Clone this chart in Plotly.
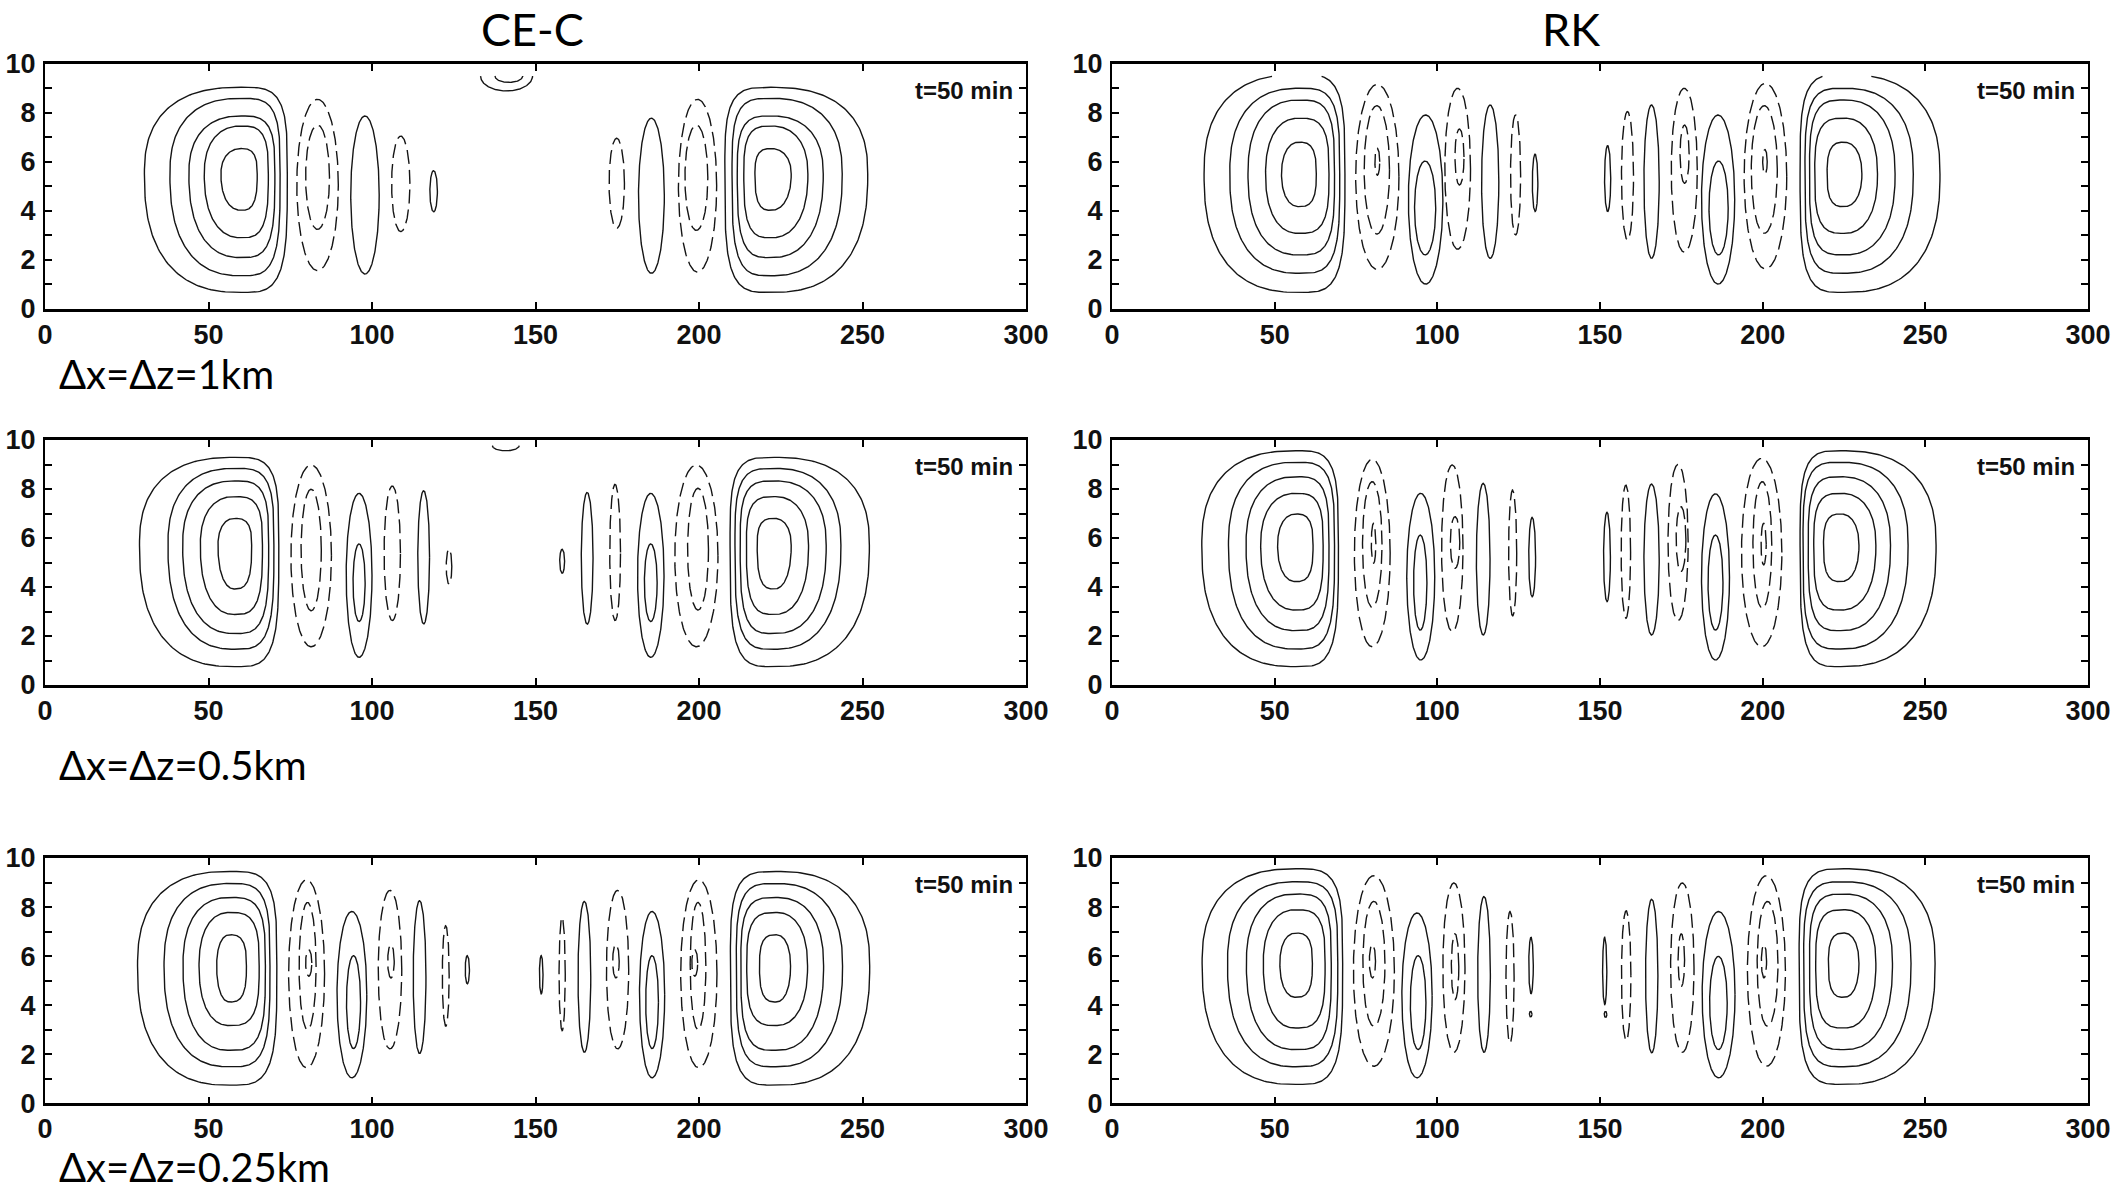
import numpy as np
import plotly.graph_objects as go

# ---------------- data ----------------
X_TICKS = [0, 50, 100, 150, 200, 250, 300]
Z_TICKS = list(range(0, 11))
Z_TICK_TEXT = [str(v) if v % 2 == 0 else "" for v in Z_TICKS]
COLUMN_TITLES = ["CE-C", "RK"]
ROW_LABELS = ["Δx=Δz=1km", "Δx=Δz=0.5km", "Δx=Δz=0.25km"]
TIME_LABEL = "t=50 min"
GRID_TOP = [9.5, 9.77, 9.9]          # top of the plotted model data, per resolution row

# centres (x, z) of the two large positive cells in each panel
cec_1km_centres = [(60.0, 5.5), (222.0, 5.5)]
rk_1km_centres = [(57.5, 5.5), (225.0, 5.5)]
cec_05km_centres = [(58.0, 5.7), (223.0, 5.7)]
rk_05km_centres = [(56.5, 5.7), (224.0, 5.7)]
cec_025km_centres = [(56.5, 5.6), (223.5, 5.6)]
rk_025km_centres = [(56.5, 5.7), (225.0, 5.7)]

# contour lines: (kind, x_left, x_right, z_bottom, z_top)
# kind: main = large positive cell, pos = positive, neg = negative (dashed), arc = partial positive contour at top
cec_1km = [
    ("main", 30.4, 74.1, 0.67, 9.04), ("main", 38.2, 71.9, 1.35, 8.59), ("main", 44.0, 70.3, 2.09, 7.87),
    ("main", 48.7, 68.3, 2.90, 7.46), ("main", 53.8, 64.9, 4.02, 6.54),
    ("neg", 77.0, 89.7, 1.56, 8.55), ("neg", 79.7, 87.0, 3.24, 7.50),
    ("pos", 93.5, 102.2, 1.42, 7.87),
    ("neg", 106.0, 111.6, 3.15, 7.05),
    ("pos", 117.7, 120.0, 3.96, 5.64),
    ("arc", 133.2, 149.1, 8.89, 10.10), ("arc", 137.6, 146.1, 9.24, 9.80),
    ("neg", 172.5, 177.2, 3.29, 6.96),
    ("pos", 181.5, 189.4, 1.45, 7.78),
    ("neg", 193.7, 205.4, 1.50, 8.55), ("neg", 195.7, 202.7, 3.20, 7.50),
    ("main", 207.9, 251.6, 0.67, 9.04), ("main", 210.1, 243.8, 1.35, 8.59), ("main", 211.7, 238.0, 2.09, 7.87),
    ("main", 213.7, 233.3, 2.90, 7.46), ("main", 217.1, 228.2, 4.02, 6.54),
]
rk_1km = [
    ("main", 28.3, 71.6, 0.67, 9.56), ("main", 36.2, 70.0, 1.45, 9.00), ("main", 41.8, 68.4, 2.20, 8.52),
    ("main", 47.2, 66.7, 3.08, 7.78), ("main", 52.1, 62.8, 4.17, 6.80),
    ("neg", 74.9, 88.2, 1.61, 9.16), ("neg", 77.5, 85.3, 3.05, 8.29), ("neg", 80.8, 82.3, 5.45, 6.55),
    ("pos", 91.1, 101.7, 1.01, 7.91), ("pos", 93.0, 99.5, 2.20, 6.03),
    ("neg", 102.3, 110.2, 2.43, 9.00), ("neg", 105.4, 108.2, 5.05, 7.34),
    ("pos", 113.6, 118.9, 2.06, 8.32),
    ("neg", 122.5, 125.6, 3.01, 7.91),
    ("pos", 129.2, 130.9, 3.97, 6.31),
    ("pos", 151.4, 153.3, 3.97, 6.66),
    ("neg", 156.6, 160.3, 2.81, 8.05),
    ("pos", 163.5, 168.2, 2.06, 8.32),
    ("neg", 171.9, 179.9, 2.31, 9.00), ("neg", 174.6, 177.4, 5.12, 7.50),
    ("pos", 181.2, 191.4, 1.01, 7.91), ("pos", 183.5, 189.4, 2.20, 6.03),
    ("neg", 194.3, 207.4, 1.63, 9.20), ("neg", 196.5, 204.5, 3.08, 8.29), ("neg", 200.0, 201.4, 5.50, 6.50),
    ("main", 211.5, 254.5, 0.67, 9.56), ("main", 213.0, 246.3, 1.45, 9.00), ("main", 214.4, 240.7, 2.20, 8.52),
    ("main", 216.0, 235.3, 3.08, 7.78), ("main", 219.8, 230.5, 4.17, 6.80),
]
cec_05km = [
    ("main", 28.9, 71.5, 0.75, 9.29), ("main", 37.6, 70.0, 1.46, 8.84), ("main", 42.1, 68.4, 2.10, 8.33),
    ("main", 47.5, 66.5, 2.88, 7.69), ("main", 52.9, 63.2, 3.92, 6.80),
    ("neg", 75.2, 87.6, 1.56, 8.98), ("neg", 78.3, 84.5, 3.03, 7.99),
    ("pos", 92.1, 100.0, 1.13, 7.82), ("pos", 94.2, 97.9, 2.59, 5.76),
    ("neg", 103.7, 108.7, 2.63, 8.12),
    ("pos", 114.0, 117.6, 2.49, 7.93),
    ("neg", 122.7, 124.4, 4.12, 5.55),
    ("arc", 136.8, 145.0, 9.56, 10.00),
    ("pos", 157.4, 158.9, 4.56, 5.54),
    ("pos", 164.0, 167.6, 2.48, 7.86),
    ("neg", 172.7, 176.0, 2.63, 8.19),
    ("pos", 181.2, 189.3, 1.13, 7.82), ("pos", 183.3, 187.2, 2.59, 5.76),
    ("neg", 192.6, 205.8, 1.56, 8.98), ("neg", 196.5, 202.9, 3.06, 8.03),
    ("main", 209.5, 252.1, 0.75, 9.29), ("main", 211.0, 243.4, 1.46, 8.84), ("main", 212.6, 238.9, 2.10, 8.33),
    ("main", 214.5, 233.5, 2.88, 7.69), ("main", 217.8, 228.2, 3.92, 6.80),
]
rk_05km = [
    ("main", 27.6, 69.6, 0.75, 9.56), ("main", 35.8, 68.4, 1.47, 9.09), ("main", 41.2, 66.7, 2.22, 8.50),
    ("main", 45.7, 64.9, 3.06, 7.82), ("main", 50.9, 61.8, 4.22, 6.98),
    ("neg", 74.5, 85.5, 1.56, 9.21), ("neg", 77.0, 83.0, 3.17, 8.30), ("neg", 79.7, 81.1, 4.97, 6.60),
    ("pos", 90.6, 99.2, 1.02, 7.82), ("pos", 92.7, 96.8, 2.24, 6.12),
    ("neg", 101.3, 107.9, 2.18, 8.98), ("neg", 104.0, 106.9, 4.76, 6.87),
    ("pos", 112.0, 116.2, 2.04, 8.23),
    ("neg", 121.9, 124.4, 2.82, 7.96),
    ("pos", 128.1, 130.2, 3.60, 6.84),
    ("pos", 151.1, 153.2, 3.40, 7.05),
    ("neg", 156.5, 159.4, 2.72, 8.16),
    ("pos", 163.5, 168.2, 2.04, 8.20),
    ("neg", 170.9, 177.1, 2.63, 9.00), ("neg", 173.4, 176.4, 4.63, 7.28),
    ("pos", 181.2, 189.8, 1.02, 7.80), ("pos", 183.2, 187.8, 2.24, 6.12),
    ("neg", 193.5, 205.9, 1.56, 9.25), ("neg", 197.0, 202.8, 3.13, 8.30), ("neg", 199.5, 201.1, 4.90, 6.60),
    ("main", 211.5, 253.3, 0.75, 9.56), ("main", 212.4, 244.7, 1.47, 9.09), ("main", 214.0, 239.3, 2.22, 8.50),
    ("main", 215.7, 234.8, 3.06, 7.82), ("main", 218.7, 229.6, 4.22, 6.98),
]
cec_025km = [
    ("main", 28.3, 70.9, 0.74, 9.45), ("main", 36.4, 68.8, 1.49, 8.96), ("main", 42.2, 67.4, 2.16, 8.39),
    ("main", 47.1, 65.5, 3.17, 7.78), ("main", 52.5, 61.6, 4.13, 6.87),
    ("neg", 74.5, 85.5, 1.45, 9.11), ("neg", 77.7, 82.9, 3.00, 8.19), ("neg", 79.7, 81.6, 5.18, 6.26),
    ("pos", 89.3, 98.4, 1.04, 7.82), ("pos", 92.2, 96.5, 2.23, 6.02),
    ("neg", 101.9, 109.1, 2.22, 8.68), ("neg", 104.8, 106.8, 5.11, 6.47),
    ("pos", 112.6, 116.5, 2.03, 8.26),
    ("neg", 121.5, 123.6, 3.14, 7.24),
    ("pos", 128.5, 129.8, 4.87, 6.02),
    ("pos", 151.2, 152.3, 4.46, 6.02),
    ("neg", 157.2, 159.1, 2.96, 7.58),
    ("pos", 163.0, 166.9, 2.08, 8.23),
    ("neg", 171.7, 178.5, 2.22, 8.68), ("neg", 173.6, 175.6, 5.11, 6.47),
    ("pos", 181.8, 189.5, 1.04, 7.82), ("pos", 183.7, 187.6, 2.23, 6.02),
    ("neg", 194.4, 205.5, 1.45, 9.11), ("neg", 197.3, 202.1, 3.00, 8.19), ("neg", 197.8, 199.6, 5.18, 6.26),
    ("main", 209.6, 252.2, 0.74, 9.45), ("main", 211.4, 243.9, 1.49, 8.96), ("main", 212.8, 238.1, 2.16, 8.39),
    ("main", 214.6, 233.2, 3.17, 7.78), ("main", 218.5, 228.0, 4.13, 6.87),
]
rk_025km = [
    ("main", 27.7, 70.9, 0.77, 9.56), ("main", 35.5, 69.4, 1.49, 9.03), ("main", 41.3, 67.4, 2.19, 8.53),
    ("main", 46.5, 65.5, 3.07, 7.89), ("main", 51.6, 61.6, 4.32, 6.94),
    ("neg", 74.2, 86.8, 1.51, 9.28), ("neg", 77.1, 83.9, 3.14, 8.23), ("neg", 79.1, 81.0, 5.11, 6.47),
    ("pos", 89.1, 98.4, 1.04, 7.76), ("pos", 91.7, 96.5, 2.19, 6.02),
    ("neg", 101.7, 108.5, 2.08, 8.98), ("neg", 104.3, 106.6, 4.23, 6.91),
    ("pos", 112.4, 116.3, 2.08, 8.43),
    ("neg", 121.1, 123.6, 2.46, 7.82),
    ("pos", 128.1, 129.5, 4.47, 6.77), ("pos", 128.3, 129.1, 3.52, 3.75),
    ("pos", 150.8, 152.1, 4.02, 6.77), ("pos", 151.3, 152.1, 3.50, 3.75),
    ("neg", 156.6, 159.5, 2.56, 7.85),
    ("pos", 164.0, 167.8, 2.06, 8.32),
    ("neg", 171.7, 178.9, 2.08, 8.98), ("neg", 174.0, 176.0, 4.77, 6.91),
    ("pos", 181.4, 191.5, 1.04, 7.82), ("pos", 183.7, 189.1, 2.19, 5.99),
    ("neg", 195.3, 207.0, 1.51, 9.28), ("neg", 198.3, 204.7, 3.14, 8.23), ("neg", 199.6, 201.2, 5.11, 6.47),
    ("main", 211.2, 253.0, 0.77, 9.56), ("main", 212.6, 245.6, 1.49, 9.03), ("main", 214.4, 239.9, 2.19, 8.53),
    ("main", 216.3, 234.8, 3.07, 7.89), ("main", 220.2, 229.6, 4.32, 6.94),
]

PANELS = [  # (row, column, contours, main-cell centres)
    (0, 0, cec_1km, cec_1km_centres), (0, 1, rk_1km, rk_1km_centres),
    (1, 0, cec_05km, cec_05km_centres), (1, 1, rk_05km, rk_05km_centres),
    (2, 0, cec_025km, cec_025km_centres), (2, 1, rk_025km, rk_025km_centres),
]

# ---------------- layout / style ----------------
W, H = 2114, 1191
COL_PX = [(45, 1026), (1112, 2088)]
ROW_PX = [(63.8, 308.8), (440.0, 685.0), (858.0, 1103.3)]
LINE_COLOR = "#151515"
TICK_FONT = dict(family="Liberation Sans Narrow, Liberation Sans, Arial", size=27, color="#111111", weight="bold")
TITLE_FONT = dict(family="Lato, Noto Sans, sans-serif", size=45, color="black")
LABEL_FONT = dict(family="Lato, Noto Sans, sans-serif", size=40, color="black")
TIME_FONT = dict(family="Liberation Sans Narrow, Liberation Sans, Arial", size=24, color="#111111", weight="bold")


def main_exponents(zb, zt):
    """Large cells: the side facing the domain centre is flatter for the outer contours."""
    frac = min(1.0, (zt - zb) / 8.5)
    return 2.1 + 0.4 * frac, 2.5 + 1.3 * frac   # (outer side, inner side)


def contour_path(xl, xr, zb, zt, xc, zc, p_left, p_right, ztop, n=241):
    t = np.linspace(0.0, 2 * np.pi, n)
    c, s = np.cos(t), np.sin(t)
    p = np.where(c >= 0, p_right, p_left)
    ux = np.sign(c) * np.abs(c) ** (2.0 / p)
    uz = np.sign(s) * np.abs(s) ** (2.0 / p)
    x = xc + np.where(c >= 0, xr - xc, xc - xl) * ux
    z = zc + np.where(s >= 0, zt - zc, zc - zb) * uz
    xs, zs = [], []
    for a, b in zip(x, z):
        if b > ztop:
            xs.append(None)
            zs.append(None)
        else:
            xs.append(float(a))
            zs.append(float(b))
    xs.append(None)
    zs.append(None)
    return xs, zs


fig = go.Figure()
annotations = []
layout_axes = {}

for i, (row, col, contours, centres) in enumerate(PANELS):
    n = i + 1
    xname = "x" if n == 1 else f"x{n}"
    yname = "y" if n == 1 else f"y{n}"
    ztop = GRID_TOP[row]
    solid_x, solid_z, dash_x, dash_z = [], [], [], []
    for kind, xl, xr, zb, zt in contours:
        if kind == "main":
            xc, zc = next((cx, cz) for cx, cz in centres if xl <= cx <= xr)
            p_out, p_in = main_exponents(zb, zt)
            if xc < 150:
                pl, pr = p_out, p_in
            else:
                pl, pr = p_in, p_out
        elif kind == "arc":
            xc, zc = (xl + xr) / 2, ztop
            pl = pr = 2.0
        else:
            xc, zc = (xl + xr) / 2, (zb + zt) / 2
            pl = pr = 2.0
        xs, zs = contour_path(xl, xr, zb, zt, xc, zc, pl, pr, ztop)
        if kind == "neg":
            dash_x += xs
            dash_z += zs
        else:
            solid_x += xs
            solid_z += zs
    fig.add_trace(go.Scatter(x=solid_x, y=solid_z, mode="lines", xaxis=xname, yaxis=yname,
                             line=dict(color=LINE_COLOR, width=1.4), showlegend=False, hoverinfo="skip"))
    fig.add_trace(go.Scatter(x=dash_x, y=dash_z, mode="lines", xaxis=xname, yaxis=yname,
                             line=dict(color=LINE_COLOR, width=1.4, dash="14px,6px"),
                             showlegend=False, hoverinfo="skip"))

    x0, x1 = COL_PX[col]
    top, bottom = ROW_PX[row]
    layout_axes["xaxis" if n == 1 else f"xaxis{n}"] = dict(
        domain=[x0 / W, x1 / W], range=[0, 300], anchor=yname, automargin=False,
        tickmode="array", tickvals=X_TICKS, ticks="inside", ticklen=7, tickwidth=1.6,
        tickcolor="black", mirror="ticks", showline=True, linewidth=2.5, linecolor="black",
        showgrid=False, zeroline=False, tickfont=TICK_FONT, ticklabelstandoff=0, fixedrange=True)
    layout_axes["yaxis" if n == 1 else f"yaxis{n}"] = dict(
        domain=[1 - bottom / H, 1 - top / H], range=[0, 10], anchor=xname, automargin=False,
        tickmode="array", tickvals=Z_TICKS, ticktext=Z_TICK_TEXT, ticks="inside", ticklen=7,
        tickwidth=1.6, tickcolor="black", mirror="ticks", showline=True, linewidth=2.2,
        linecolor="black", showgrid=False, zeroline=False, tickfont=TICK_FONT,
        ticklabelstandoff=2, fixedrange=True)
    annotations.append(dict(text=TIME_LABEL, x=296.5, y=8.93, xref=xname, yref=yname,
                            xanchor="right", yanchor="middle", showarrow=False, font=TIME_FONT))

# column titles
for title, xpx in zip(COLUMN_TITLES, [532, 1571]):
    annotations.append(dict(text=title, x=xpx / W, y=1 - 29 / H, xref="paper", yref="paper",
                            xanchor="center", yanchor="middle", showarrow=False, font=TITLE_FONT))
# row labels
for label, ypx in zip(ROW_LABELS, [374, 765, 1166.5]):
    annotations.append(dict(text=label, x=57 / W, y=1 - ypx / H, xref="paper", yref="paper",
                            xanchor="left", yanchor="middle", showarrow=False, font=LABEL_FONT))

fig.update_layout(width=W, height=H, margin=dict(l=0, r=0, t=0, b=0, autoexpand=False),
                  paper_bgcolor="white", plot_bgcolor="white",
                  annotations=annotations, **layout_axes)

fig.write_html("out.html", config={"displayModeBar": False},
               post_script="document.body.style.margin='0px';document.body.style.overflow='hidden';")
